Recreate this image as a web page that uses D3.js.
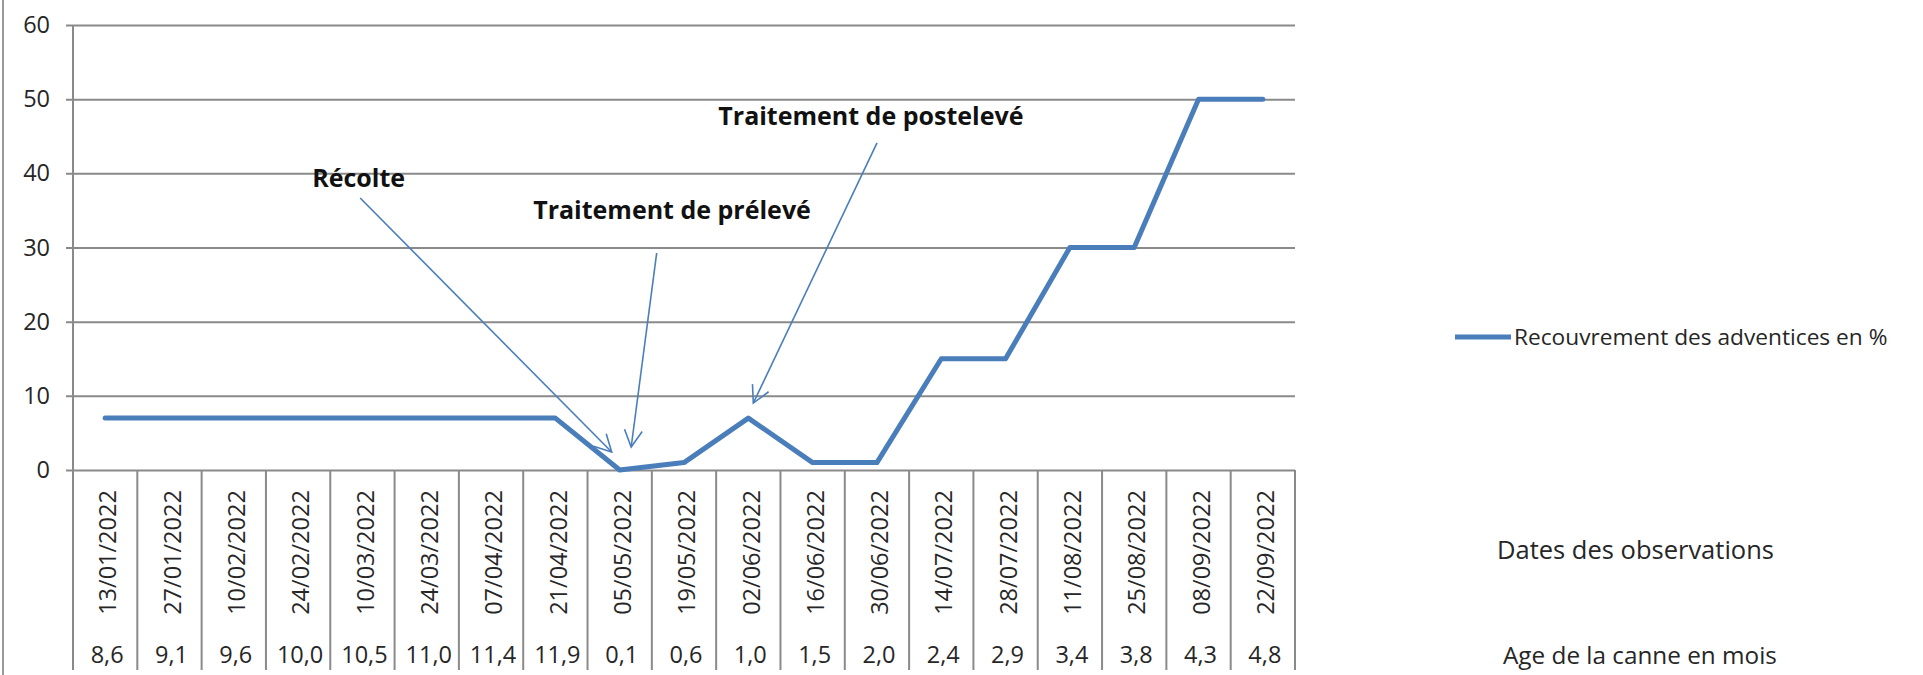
<!DOCTYPE html>
<html>
<head>
<meta charset="utf-8">
<script src="https://cdn.jsdelivr.net/npm/d3@7"></script>
<style>
  body { margin: 0; background: #fff; }
  svg { display: block; }
  text { font-family: "Open Sans", sans-serif; }
</style>
</head>
<body>
<svg id="chart" width="1923" height="675"></svg>
<script>
// ---------------- DATA ----------------
const dates = ["13/01/2022","27/01/2022","10/02/2022","24/02/2022","10/03/2022","24/03/2022",
  "07/04/2022","21/04/2022","05/05/2022","19/05/2022","02/06/2022","16/06/2022","30/06/2022",
  "14/07/2022","28/07/2022","11/08/2022","25/08/2022","08/09/2022","22/09/2022"];
const ages = ["8,6","9,1","9,6","10,0","10,5","11,0","11,4","11,9","0,1","0,6","1,0","1,5",
  "2,0","2,4","2,9","3,4","3,8","4,3","4,8"];
const cover = [7,7,7,7,7,7,7,7,0,1,7,1,1,15,15,30,30,50,50];
const yTicks = [0,10,20,30,40,50,60];
const seriesName = "Recouvrement des adventices en %";
const rowTitles = ["Dates des observations", "Age de la canne en mois"];
const annotationLabels = ["Récolte", "Traitement de prélevé", "Traitement de postelevé"];
const annotationDates = ["05/05/2022", "05/05/2022", "02/06/2022"];

// ---------------- LAYOUT ----------------
(function () {
const svg = d3.select("#chart");
const pL = 73, pR = 1295, pT = 25, pB = 470, tableBottom = 670;
const blue = "#4a7ebb", grid = "#8a8a8a", txt = "#262626";
const fs = 23.5;

const x = d3.scaleBand().domain(dates).range([pL, pR]).padding(0);
const y = d3.scaleLinear().domain([0, 60]).range([pB, pT]);
const cx = d => x(d) + x.bandwidth() / 2;

// outer frame (left border)
svg.append("line").attr("x1", 3).attr("x2", 3).attr("y1", 0).attr("y2", 675)
  .attr("stroke", "#9a9a9a").attr("stroke-width", 2);

// y axis with gridlines
const yAxis = d3.axisLeft(y).tickValues(yTicks).tickSize(-(pR - 66)).tickPadding(16);
const gy = svg.append("g").attr("transform", "translate(66,0)").call(yAxis);
gy.select(".domain").remove();
gy.selectAll(".tick line").attr("stroke", grid).attr("stroke-width", 2);
gy.selectAll(".tick text").attr("font-size", fs).attr("fill", txt)
  .style("font-family", '"Open Sans", sans-serif');

// vertical axis line
svg.append("line").attr("x1", pL).attr("x2", pL).attr("y1", pT).attr("y2", tableBottom)
  .attr("stroke", grid).attr("stroke-width", 2);

// data table separators
const bounds = d3.range(dates.length + 1).map(i => pL + i * x.step());
svg.append("g").selectAll("line").data(bounds.slice(1)).join("line")
  .attr("x1", d => d).attr("x2", d => d).attr("y1", pB).attr("y2", tableBottom)
  .attr("stroke", grid).attr("stroke-width", 2);

// date labels (x axis)
const xAxis = d3.axisBottom(x).tickSize(0);
const gx = svg.append("g").attr("transform", `translate(0,${pB})`).call(xAxis);
gx.select(".domain").remove();
gx.selectAll(".tick text")
  .attr("font-size", fs).attr("fill", txt)
  .style("font-family", '"Open Sans", sans-serif')
  .attr("text-anchor", "middle")
  .attr("y", 0).attr("dy", "0.35em")
  .attr("transform", "translate(3,82.5) rotate(-90)");

// age labels
const ageAxis = d3.axisBottom(x).tickSize(0).tickFormat((d, i) => ages[i]);
const ga = svg.append("g").attr("transform", `translate(0,${pB})`).call(ageAxis);
ga.select(".domain").remove();
ga.selectAll(".tick text")
  .attr("font-size", fs).attr("fill", txt)
  .style("font-family", '"Open Sans", sans-serif')
  .attr("text-anchor", "middle")
  .attr("y", 185).attr("dy", "0.35em").attr("x", 2);

// row titles
svg.append("text").attr("x", 1497).attr("y", 550).attr("dy", "0.35em")
  .attr("font-size", 25.5).attr("fill", txt).text(rowTitles[0]);
svg.append("text").attr("x", 1503).attr("y", 655).attr("dy", "0.35em")
  .attr("font-size", 24.3).attr("fill", txt).text(rowTitles[1]);

// line
const line = d3.line().x((d, i) => cx(dates[i])).y(d => y(d));
svg.append("path").datum(cover).attr("d", line)
  .attr("fill", "none").attr("stroke", blue).attr("stroke-width", 5)
  .attr("stroke-linejoin", "round").attr("stroke-linecap", "round");

// legend
svg.append("line").attr("x1", 1455).attr("x2", 1511).attr("y1", 337).attr("y2", 337)
  .attr("stroke", blue).attr("stroke-width", 5);
svg.append("text").attr("x", 1514).attr("y", 337).attr("dy", "0.35em")
  .attr("font-size", 22.7).attr("fill", txt).text(seriesName);

// annotations: offsets (px) relative to the targeted data point
const annLayout = [
  { tx: -307.5, ty: -283, sx: -259.5, sy: -272, ex: -8, ey: -18 },
  { tx: -86.5, ty: -251, sx: 37, sy: -217, ex: 11.5, ey: -23 },
  { tx: -30, ty: -293, sx: 128.7, sy: -275.3, ex: 5, ey: -15 }
];
const annG = svg.append("g");
annotationLabels.forEach((lab, k) => {
  const d = annotationDates[k];
  const px = cx(d), py = y(cover[dates.indexOf(d)]);
  const L = annLayout[k];
  annG.append("text").attr("x", px + L.tx).attr("y", py + L.ty)
    .attr("font-size", 25).attr("font-weight", "bold").attr("fill", "#111").text(lab);
  const x1 = px + L.sx, y1 = py + L.sy, x2 = px + L.ex, y2 = py + L.ey;
  annG.append("line").attr("x1", x1).attr("y1", y1).attr("x2", x2).attr("y2", y2)
    .attr("stroke", blue).attr("stroke-width", 1.6);
  const ang = Math.atan2(y1 - y2, x1 - x2), a = 28 * Math.PI / 180, len = 19;
  const p1 = [x2 + len * Math.cos(ang + a), y2 + len * Math.sin(ang + a)];
  const p2 = [x2 + len * Math.cos(ang - a), y2 + len * Math.sin(ang - a)];
  annG.append("path").attr("d", `M${p1}L${x2},${y2}L${p2}`)
    .attr("fill", "none").attr("stroke", blue).attr("stroke-width", 1.6);
});
})();
</script>
</body>
</html>
